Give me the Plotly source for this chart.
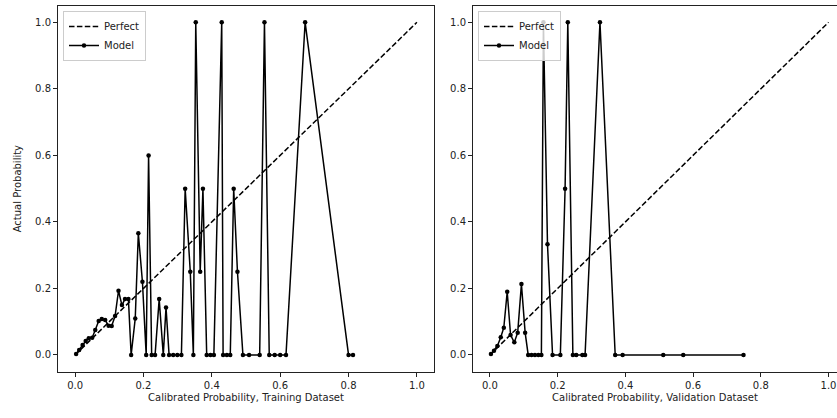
import plotly.graph_objects as go

# ---- data ----
perfect_x = [0.0, 1.0]
perfect_y = [0.0, 1.0]

train_x = [0.003, 0.012, 0.022, 0.031, 0.040, 0.050, 0.059, 0.069, 0.078, 0.088,
           0.098, 0.107, 0.117, 0.127, 0.137, 0.146, 0.156, 0.164, 0.176, 0.185,
           0.197, 0.208, 0.215, 0.224, 0.234, 0.246, 0.258, 0.266, 0.275, 0.287,
           0.299, 0.311, 0.322, 0.337, 0.346, 0.353, 0.366, 0.374, 0.385, 0.396,
           0.406, 0.429, 0.433, 0.444, 0.454, 0.464, 0.475, 0.491, 0.509, 0.540,
           0.554, 0.568, 0.584, 0.600, 0.617, 0.673, 0.800, 0.813]
train_y = [0.003, 0.015, 0.030, 0.042, 0.050, 0.052, 0.075, 0.102, 0.108, 0.105,
           0.088, 0.087, 0.117, 0.193, 0.150, 0.168, 0.168, 0.0, 0.110, 0.366,
           0.220, 0.0, 0.600, 0.0, 0.0, 0.168, 0.0, 0.143, 0.0, 0.0,
           0.0, 0.0, 0.5, 0.25, 0.0, 1.0, 0.25, 0.5, 0.0, 0.0,
           0.0, 1.0, 0.0, 0.0, 0.0, 0.5, 0.25, 0.0, 0.0, 0.0,
           1.0, 0.0, 0.0, 0.0, 0.0, 1.0, 0.0, 0.0]

valid_x = [0.003, 0.012, 0.022, 0.032, 0.041, 0.051, 0.061, 0.072, 0.082, 0.093,
           0.104, 0.113, 0.123, 0.133, 0.143, 0.152, 0.158, 0.170, 0.185, 0.208,
           0.222, 0.230, 0.245, 0.255, 0.273, 0.281, 0.325, 0.370, 0.392, 0.512,
           0.571, 0.749]
valid_y = [0.003, 0.013, 0.027, 0.053, 0.082, 0.190, 0.060, 0.038, 0.067, 0.213,
           0.067, 0.0, 0.0, 0.0, 0.0, 0.0, 1.0, 0.333, 0.0, 0.0,
           0.5, 1.0, 0.0, 0.0, 0.0, 0.0, 1.0, 0.0, 0.0, 0.0,
           0.0, 0.0]

tick_vals = [0.0, 0.2, 0.4, 0.6, 0.8, 1.0]
tick_text = ["0.0", "0.2", "0.4", "0.6", "0.8", "1.0"]
x_titles = ["Calibrated Probability, Training Dataset",
            "Calibrated Probability, Validation Dataset"]
y_title = "Actual Probability"

W, H = 837, 418
FONT = "DejaVu Sans"
dash_style = "5.5px,2.4px"

fig = go.Figure()

for i, (mx, my) in enumerate([(train_x, train_y), (valid_x, valid_y)]):
    xa = "x" if i == 0 else "x2"
    ya = "y" if i == 0 else "y2"
    lg = "legend" if i == 0 else "legend2"
    fig.add_trace(go.Scatter(
        x=perfect_x, y=perfect_y, mode="lines", name="Perfect",
        line=dict(color="black", width=1.5, dash=dash_style),
        xaxis=xa, yaxis=ya, legend=lg, hoverinfo="skip"))
    fig.add_trace(go.Scatter(
        x=mx, y=my, mode="lines+markers", name="Model",
        line=dict(color="black", width=1.5),
        marker=dict(color="black", size=4.5),
        xaxis=xa, yaxis=ya, legend=lg))

axis_common = dict(
    showgrid=False, zeroline=False, showline=True, linecolor="#222",
    linewidth=1, ticks="outside", ticklen=4, tickwidth=1, tickcolor="#222",
    tickvals=tick_vals, ticktext=tick_text,
    tickfont=dict(family=FONT, size=10, color="#222"),
)

ydom = [(H - 371.6) / H, (H - 5.7) / H]

fig.update_layout(
    width=W, height=H,
    margin=dict(l=0, r=0, t=0, b=0),
    paper_bgcolor="white", plot_bgcolor="white",
    font=dict(family=FONT, size=10, color="#222"),
    xaxis=dict(axis_common, domain=[58 / W, 434 / W], range=[-0.05, 1.05],
               mirror=True, anchor="y",
               title=dict(text=x_titles[0], font=dict(family=FONT, size=10), standoff=4)),
    yaxis=dict(axis_common, domain=ydom, range=[-0.05, 1.05], mirror=True, anchor="x",
               title=dict(text=y_title, font=dict(family=FONT, size=10), standoff=11)),
    xaxis2=dict(axis_common, domain=[473 / W, 1.0], range=[-0.05, 1.0251],
                mirror=True, anchor="y2",
                title=dict(text=x_titles[1], font=dict(family=FONT, size=10), standoff=4)),
    yaxis2=dict(axis_common, domain=ydom, range=[-0.05, 1.05], mirror=False, anchor="x2"),
    legend=dict(x=63 / W, y=(H - 11) / H, xanchor="left", yanchor="top",
                bgcolor="rgba(255,255,255,0.8)", bordercolor="#ccc", borderwidth=1,
                font=dict(family=FONT, size=10, color="#222"),
                itemwidth=30, tracegroupgap=0),
    legend2=dict(x=478 / W, y=(H - 11) / H, xanchor="left", yanchor="top",
                 bgcolor="rgba(255,255,255,0.8)", bordercolor="#ccc", borderwidth=1,
                 font=dict(family=FONT, size=10, color="#222"),
                 itemwidth=30, tracegroupgap=0),
    showlegend=True,
)

fig.write_html("out.html", config={"displayModeBar": False},
               post_script="document.body.style.margin='0px';")
